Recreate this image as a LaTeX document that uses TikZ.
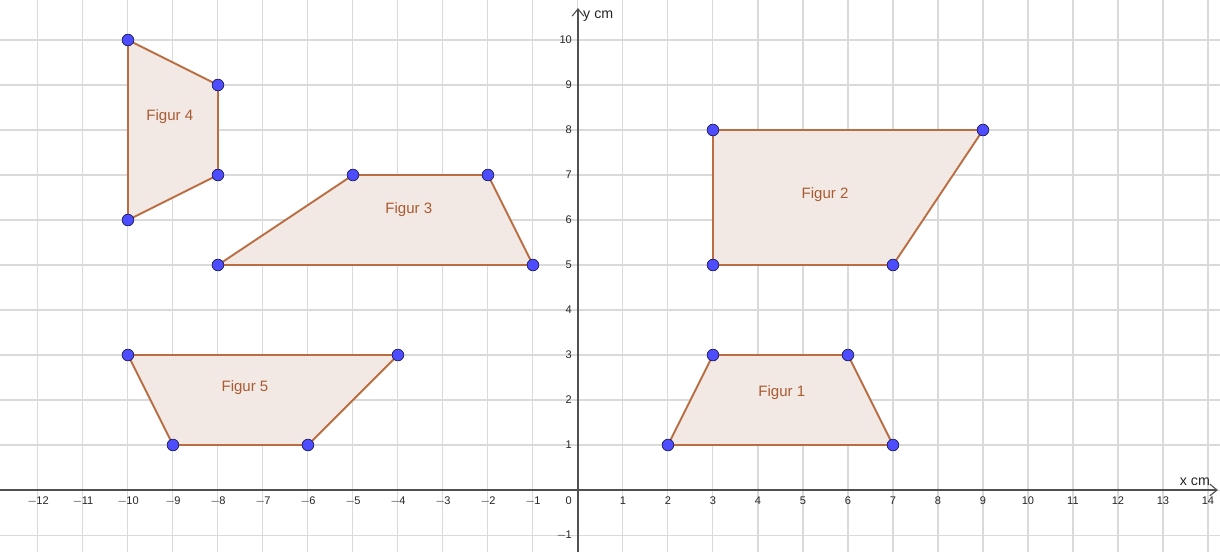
\documentclass[tikz,border=0pt]{standalone}
\usepackage{fontspec}
\setmainfont{Liberation Sans}
\usetikzlibrary{arrows.meta}
\definecolor{edgec}{RGB}{186,108,66}
\definecolor{fillc}{RGB}{242,233,228}
\definecolor{ptc}{RGB}{77,77,255}
\definecolor{ptline}{RGB}{30,30,90}
\definecolor{gridc}{RGB}{218,218,218}
\definecolor{axisc}{RGB}{80,80,80}
\definecolor{labc}{RGB}{170,90,50}
\tikzset{
  pt/.style={circle,fill=ptc,draw=ptline,line width=0.45pt,inner sep=0pt,minimum size=0.26cm},
  fig/.style={draw=edgec,fill=fillc,line width=1.2pt,line join=round},
  figlab/.style={text=labc,font=\fontsize{9.5}{11}\selectfont},
  tick/.style={font=\fontsize{7}{8}\selectfont,text=black!85,inner sep=0pt},
  axlab/.style={font=\fontsize{9}{11}\selectfont,text=black!85,inner sep=0pt},
  axis/.style={draw=axisc,line width=0.9pt,-{Straight Barb[length=1.6mm,width=2.6mm,line width=0.7pt]}}
}
\begin{document}
\begin{tikzpicture}[x=1cm,y=1cm]
\useasboundingbox (-12.844,-1.378) rectangle (14.267,10.889);
\fill[white] (-12.844,-1.378) rectangle (14.267,10.889);
% grid
\foreach \i in {-12,...,14} \draw[gridc,line width=0.65pt] (\i,-1.378) -- (\i,10.889);
\foreach \j in {-1,...,10} \draw[gridc,line width=0.65pt] (-12.844,\j) -- (14.267,\j);
% axes
\coordinate (xs) at (-12.844,0);
\coordinate (xe) at (14.22,0);
\coordinate (ys) at (0,-1.378);
\coordinate (ye) at (0,10.71);
\draw[axis] (xs) -- (xe);
\draw[axis] (ys) -- (ye);
\node[axlab,anchor=south] (xl) at (13.71,0.1) {x cm};
\node[axlab,anchor=west] (yl) at (0.11,10.52) {y cm};
% tick labels
\foreach \i in {-12,...,-1} \node[tick,anchor=north] (tx\i) at (\i,-0.14) {$\mathsf{-}$\kern-0.5pt\the\numexpr-\i\relax};
\foreach \i in {1,...,14} \node[tick,anchor=north] (tx\i) at (\i,-0.14) {\i};
\node[tick,anchor=north east] (t0) at (-0.13,-0.14) {0};
\foreach \j in {1,...,10} \node[tick,anchor=east] (ty\j) at (-0.13,\j) {\j};
\node[tick,anchor=east] (tym) at (-0.13,-1) {$\mathsf{-}$\kern-0.5pt 1};
% figures
\draw[fig] (2,1) -- (7,1) -- (6,3) -- (3,3) -- cycle;
\draw[fig] (3,5) -- (7,5) -- (9,8) -- (3,8) -- cycle;
\draw[fig] (-8,5) -- (-1,5) -- (-2,7) -- (-5,7) -- cycle;
\draw[fig] (-10,6) -- (-8,7) -- (-8,9) -- (-10,10) -- cycle;
\draw[fig] (-9,1) -- (-6,1) -- (-4,3) -- (-10,3) -- cycle;
% labels
\node[figlab] (f1) at (4.53,2.16) {Figur 1};
\node[figlab] (f2) at (5.49,6.56) {Figur 2};
\node[figlab] (f3) at (-3.76,6.22) {Figur 3};
\node[figlab] (f4) at (-9.07,8.29) {Figur 4};
\node[figlab] (f5) at (-7.4,2.27) {Figur 5};
% points
\foreach \p/\q [count=\k] in {2/1,7/1,6/3,3/3,3/5,7/5,9/8,3/8,-8/5,-1/5,-2/7,-5/7,-10/6,-8/7,-8/9,-10/10,-9/1,-6/1,-4/3,-10/3}
  \node[pt] (p\k) at (\p,\q) {};
\end{tikzpicture}
\end{document}
